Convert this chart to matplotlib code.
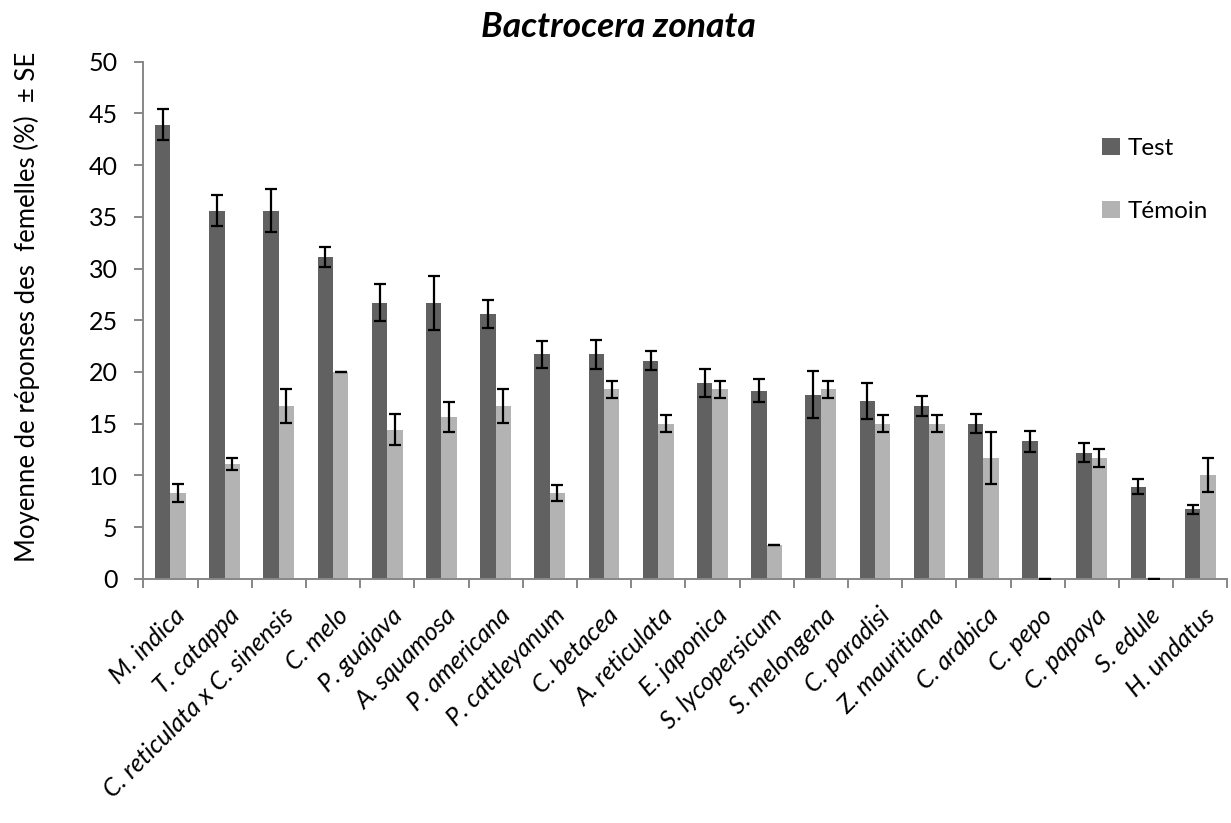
import numpy as np
import matplotlib
matplotlib.use("Agg")
import matplotlib.pyplot as plt
from matplotlib.ticker import MultipleLocator, FixedLocator
from matplotlib.transforms import ScaledTranslation

plt.rcParams['font.family'] = ['Lato', 'DejaVu Sans']

species = ["M. indica", "T. catappa", "C. reticulata x C. sinensis", "C. melo",
           "P. guajava", "A. squamosa", "P. americana", "P. cattleyanum",
           "C. betacea", "A. reticulata", "E. japonica", "S. lycopersicum",
           "S. melongena", "C. paradisi", "Z. mauritiana", "C. arabica",
           "C. pepo", "C. papaya", "S. edule", "H. undatus"]

test_mean = [43.9, 35.6, 35.6, 31.1, 26.7, 26.7, 25.6, 21.7, 21.7, 21.1,
             18.9, 18.2, 17.8, 17.2, 16.7, 15.0, 13.3, 12.2, 8.9, 6.7]
test_se = [1.5, 1.5, 2.1, 0.95, 1.8, 2.6, 1.4, 1.3, 1.4, 0.95,
           1.35, 1.15, 2.3, 1.75, 0.95, 0.95, 1.0, 0.9, 0.7, 0.45]

temoin_mean = [8.3, 11.1, 16.7, 20.0, 14.4, 15.6, 16.7, 8.3, 18.3, 15.0,
               18.3, 3.3, 18.3, 15.0, 15.0, 11.7, 0.0, 11.7, 0.0, 10.0]
temoin_se = [0.85, 0.55, 1.65, 0.0, 1.5, 1.45, 1.65, 0.8, 0.85, 0.85,
             0.85, 0.0, 0.85, 0.8, 0.8, 2.5, 0.0, 0.85, 0.0, 1.65]

W, H = 1231, 823
fig = plt.figure(figsize=(W / 100, H / 100), dpi=100)
ax = fig.add_axes([143.3 / W, 1 - 578.7 / H, (1227.3 - 143.3) / W, (578.7 - 61.7) / H])

x = np.arange(len(species))
bw = 0.284
c_test = '#616161'
c_tem = '#B3B3B3'

ax.bar(x - bw / 2, test_mean, bw, color=c_test, label='Test', zorder=2)
ax.bar(x + bw / 2, temoin_mean, bw, color=c_tem, label='Témoin', zorder=2)

err_kw = dict(fmt='none', ecolor='black', elinewidth=1.6, capsize=4.6,
              capthick=1.6, zorder=3)
ax.errorbar(x - bw / 2, test_mean, yerr=test_se, **err_kw)
ax.errorbar(x + bw / 2, temoin_mean, yerr=temoin_se, **err_kw)

ax.set_xlim(-0.5, len(species) - 0.5)
ax.set_ylim(0, 50)
ax.yaxis.set_major_locator(MultipleLocator(5))

axis_grey = '#878787'
for s in ('top', 'right'):
    ax.spines[s].set_visible(False)
for s in ('left', 'bottom'):
    ax.spines[s].set_color(axis_grey)
    ax.spines[s].set_linewidth(1.4)

ax.tick_params(axis='y', direction='out', length=6.5, width=1.4, color=axis_grey,
               labelsize=18, pad=12)
ax.set_xticks(x)
ax.set_xticklabels(species, rotation=45, ha='right', va='top',
                   rotation_mode='anchor', fontsize=18, style='italic')
ax.tick_params(axis='x', which='major', length=0, pad=18)
# nudge the slanted species names slightly to the right of each tick
shift = ScaledTranslation(3 / 100, 0, fig.dpi_scale_trans)
for lbl in ax.get_xticklabels():
    lbl.set_transform(lbl.get_transform() + shift)
ax.xaxis.set_minor_locator(FixedLocator(np.arange(-0.5, len(species), 1.0)))
ax.tick_params(axis='x', which='minor', direction='out', length=6.5, width=1.4,
               color=axis_grey)

ax.set_ylabel('Moyenne de réponses des  femelles (%)  ± SE', fontsize=18.5)
ax.yaxis.set_label_coords(-0.095, 0.525)

fig.text(0.502, 1 - 37 / H, 'Bactrocera zonata', ha='center', va='baseline',
         fontsize=25.5, fontweight='bold', style='italic')

leg = ax.legend(loc='upper left', bbox_to_anchor=(1102 / W, 1 - 138 / H),
                bbox_transform=fig.transFigure, frameon=False, fontsize=17.5,
                handlelength=0.72, handleheight=0.72, handletextpad=0.35,
                labelspacing=1.72, borderpad=0, borderaxespad=0)

fig.savefig('out.png', dpi=100)
